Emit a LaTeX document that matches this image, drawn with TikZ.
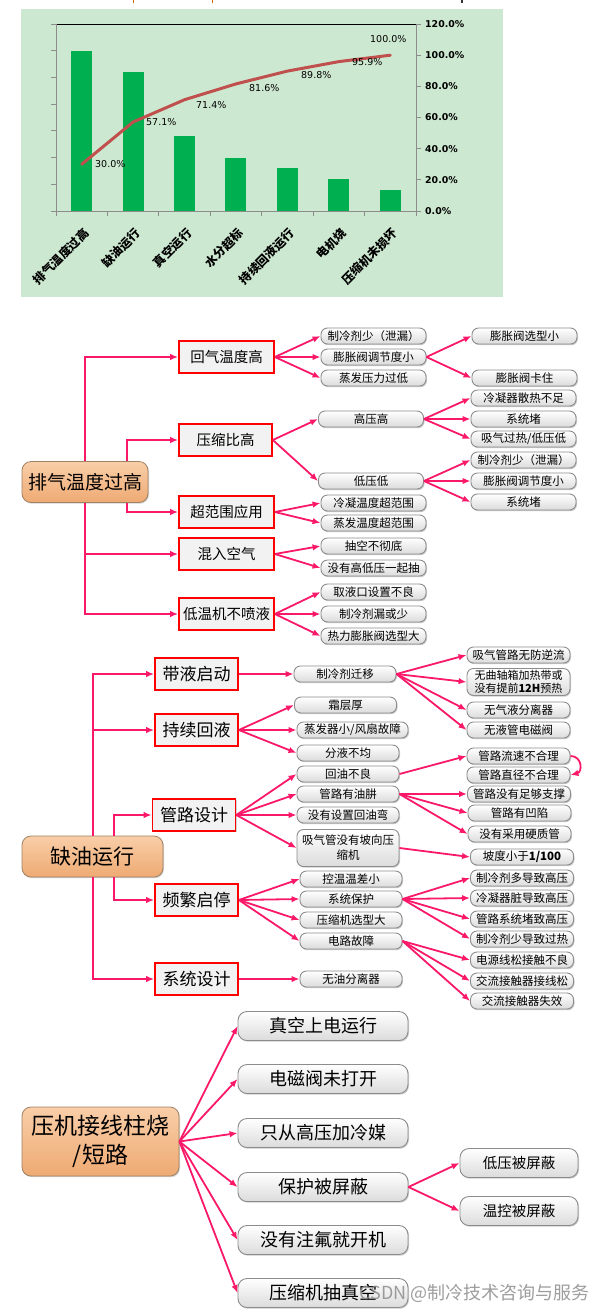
\documentclass[tikz,border=0pt]{standalone}
\usepackage{fontspec}
\setmainfont{Noto Sans CJK SC}
\newfontfamily\numf{DejaVu Sans}
\usetikzlibrary{arrows.meta,shadows}
\definecolor{pk}{RGB}{250,25,105}
\definecolor{chartbg}{RGB}{205,232,208}
\definecolor{barg}{RGB}{0,176,80}
\definecolor{cline}{RGB}{192,80,77}
\definecolor{orgA}{RGB}{249,206,168}
\definecolor{orgB}{RGB}{238,170,115}
\definecolor{pillborder}{RGB}{140,140,140}
\definecolor{rootborder}{RGB}{160,130,100}
\tikzset{
  arr/.style={pk, line width=1.8pt, -{Latex[length=8pt,width=6.5pt]}},
  pill/.style={rounded corners=6.5pt, draw=pillborder, line width=0.9pt, top color=white, bottom color=black!14,
    drop shadow={shadow xshift=1pt, shadow yshift=-1.2pt, fill=black!40, opacity=0.5},
    minimum height=16pt, inner sep=0pt, align=center, text=black},
  pa/.style={pill, minimum width=105pt, font=\fontsize{11.5}{13.5}\selectfont},
  pb/.style={pill, minimum width=103pt, font=\fontsize{11.5}{13.5}\selectfont},
  pc/.style={pill, minimum width=170pt, minimum height=29pt, rounded corners=9pt, font=\fontsize{18}{20}\selectfont},
  pd/.style={pill, minimum width=118pt, minimum height=29pt, rounded corners=9pt, font=\fontsize{14.5}{16}\selectfont},
  box/.style={draw=red, line width=1.7pt, fill=black!5, inner sep=0pt, minimum height=32pt,
    drop shadow={shadow xshift=1pt, shadow yshift=-1.2pt, fill=black!35, opacity=0.5}},
  rootbox/.style={rounded corners=9pt, draw=rootborder, line width=0.8pt, top color=orgA, bottom color=orgB,
    drop shadow={shadow xshift=1pt, shadow yshift=-1.2pt, fill=black!35, opacity=0.5},
    inner sep=0pt, align=center},
  pct/.style={anchor=west, font=\numf\fontsize{9.5}{11}\selectfont, inner sep=0pt},
  axl/.style={anchor=west, font=\numf\bfseries\fontsize{9.4}{11}\selectfont, inner sep=0pt},
  catl/.style={anchor=east, rotate=45, font=\bfseries\fontsize{12}{14}\selectfont, inner sep=0pt}
}
\begin{document}
\begin{tikzpicture}[x=1pt,y=-1pt]
\useasboundingbox (0,0) rectangle (600,1312);
\fill[white] (0,0) rectangle (600,1312);
% top remnants
\fill[orange!80!black] (132.5,0) rectangle (133.5,2.5);
\fill[orange!80!black] (211.5,0) rectangle (212.5,2.5);
\fill[black!80] (461,0) rectangle (462.5,2.5);
% ---------------- chart ----------------
\fill[chartbg] (21,9) rectangle (503,297);
\foreach \i/\t in {0/51,1/72,2/136,3/158,4/168,5/179,6/190}
  \fill[barg] ({81.7+\i*51.43-10.5},\t) rectangle ({81.7+\i*51.43+10.5},211);
\draw[black, line width=1pt] (56,24) -- (416,24);
\draw[black!45, line width=0.9pt] (56,24) -- (56,211) -- (416,211) -- (416,24);
\foreach \i in {0,...,7} \draw[black!45, line width=0.9pt] (51,{24+\i*26.714}) -- (56,{24+\i*26.714});
\foreach \i in {0,...,7} \draw[black!45, line width=0.9pt] ({56+\i*51.43},211) -- ({56+\i*51.43},216);
\foreach \i in {0,...,6} \draw[black!45, line width=0.9pt] (416,{211-\i*31.17}) -- (421,{211-\i*31.17});
\node[axl] (y0) at (425,211) {0.0\%};
\node[axl] (y1) at (425,179.8) {20.0\%};
\node[axl] (y2) at (425,148.7) {40.0\%};
\node[axl] (y3) at (425,117.5) {60.0\%};
\node[axl] (y4) at (425,86.3) {80.0\%};
\node[axl] (y5) at (425,55.2) {100.0\%};
\node[axl] (y6) at (425,24) {120.0\%};
\draw[cline, line width=3pt, line join=round, line cap=round] (81.7,164.3) -- (133.1,122) -- (184.6,99.7) -- (236,83.9) -- (287.4,71.1) -- (338.9,61.6) -- (390.3,55.2);
\node[pct] (v1) at (95,164) {30.0\%};
\node[pct] (v2) at (146,122) {57.1\%};
\node[pct] (v3) at (196,105) {71.4\%};
\node[pct] (v4) at (249,88) {81.6\%};
\node[pct] (v5) at (301,75) {89.8\%};
\node[pct] (v6) at (352,62) {95.9\%};
\node[pct] (v7) at (370,39) {100.0\%};
\node[catl] (k1) at (86.7,231) {排气温度过高};
\node[catl] (k2) at (138.1,231) {缺油运行};
\node[catl] (k3) at (189.6,231) {真空运行};
\node[catl] (k4) at (241,231) {水分超标};
\node[catl] (k5) at (292.4,231) {持续回液运行};
\node[catl] (k6) at (343.9,231) {电机烧};
\node[catl] (k7) at (395.3,231) {压缩机未损坏};
% ---------------- section 1 ----------------
\node[rootbox, minimum width=126pt, minimum height=41pt, font=\fontsize{19}{21}\selectfont] (r1) at (85,482) {排气温度过高};
\node[box, minimum width=95pt, font=\fontsize{14.5}{16}\selectfont] (a1) at (226.5,357) {回气温度高};
\node[box, minimum width=93pt, font=\fontsize{14.5}{16}\selectfont] (a2) at (225.5,440) {压缩比高};
\node[box, minimum width=95pt, font=\fontsize{14.5}{16}\selectfont] (a3) at (226.5,512) {超范围应用};
\node[box, minimum width=95pt, font=\fontsize{14.5}{16}\selectfont] (a4) at (226.5,554) {混入空气};
\node[box, minimum width=95pt, font=\fontsize{14.5}{16}\selectfont] (a5) at (226.5,614) {低温机不喷液};
\node[pa] (b1) at (373.5,336) {制冷剂少（泄漏）};
\node[pa] (b2) at (373.5,357) {膨胀阀调节度小};
\node[pa] (b3) at (373.5,378) {蒸发压力过低};
\node[pa] (b4) at (371,419) {高压高};
\node[pa] (b5) at (371,481) {低压低};
\node[pa] (b6) at (373.5,503) {冷凝温度超范围};
\node[pa] (b7) at (373.5,523) {蒸发温度超范围};
\node[pa] (b8) at (373.5,546) {抽空不彻底};
\node[pa] (b9) at (373.5,568) {没有高低压一起抽};
\node[pa] (b10) at (373.5,592) {取液口设置不良};
\node[pa] (b11) at (373.5,614) {制冷剂漏或少};
\node[pa] (b12) at (373.5,636) {热力膨胀阀选型大};
\node[pa] (c1) at (524.5,336) {膨胀阀选型小};
\node[pa] (c2) at (524.5,378) {膨胀阀卡住};
\node[pa] (c3) at (523.5,398) {冷凝器散热不足};
\node[pa] (c4) at (523.5,419) {系统堵};
\node[pa] (c5) at (523.5,439) {吸气过热/低压低};
\node[pa] (c6) at (523.5,460) {制冷剂少（泄漏）};
\node[pa] (c7) at (523.5,481) {膨胀阀调节度小};
\node[pa] (c8) at (523.5,502) {系统堵};
\coordinate (t1) at (85,0);
\coordinate (t2) at (127,0);
\draw[arr] (r1.north -| t1) |- (a1.west);
\draw[arr] (r1.north -| t2) |- (a2.west);
\draw[arr] (r1.south -| t2) |- (a3.west);
\draw[arr] (r1.south -| t1) |- (a4.west);
\draw[arr] (r1.south -| t1) |- (a5.west);
\foreach \s/\t in {a1/b1,a1/b2,a1/b3,a2/b4,a2/b5,a3/b6,a3/b7,a4/b8,a4/b9,a5/b10,a5/b11,a5/b12,b2/c1,b2/c2,b4/c3,b4/c4,b4/c5,b5/c6,b5/c7,b5/c8}
  \draw[arr] (\s.east) -- (\t.west);
% ---------------- section 2 ----------------
\node[rootbox, minimum width=141pt, minimum height=41pt, font=\fontsize{21}{23}\selectfont] (r2) at (92.5,856.5) {缺油运行};
\node[box, minimum width=83pt, font=\fontsize{17}{19}\selectfont] (d1) at (196.5,674) {带液启动};
\node[box, minimum width=83pt, font=\fontsize{17}{19}\selectfont] (d2) at (196.5,730) {持续回液};
\node[box, minimum width=83pt, font=\fontsize{17}{19}\selectfont] (d3) at (194,815) {管路设计};
\node[box, minimum width=83pt, font=\fontsize{17}{19}\selectfont] (d4) at (196.5,900) {频繁启停};
\node[box, minimum width=83pt, font=\fontsize{17}{19}\selectfont] (d5) at (196.5,979) {系统设计};
\node[pb, minimum width=102pt] (e1) at (345,674) {制冷剂迁移};
\node[pb, minimum width=102pt] (e2) at (345.5,705) {霜层厚};
\node[pb, minimum width=111pt] (e3) at (352.5,730) {蒸发器小/风扇故障};
\node[pb, minimum width=102pt] (e4) at (348,753) {分液不均};
\node[pb, minimum width=102pt] (e5) at (348,774) {回油不良};
\node[pb, minimum width=102pt] (e6) at (348,794) {管路有油肼};
\node[pb, minimum width=102pt] (e7) at (348,815) {没有设置回油弯};
\node[pb, minimum width=102pt, minimum height=37pt, font=\fontsize{11.5}{15}\selectfont] (e8) at (348,848) {吸气管没有坡向压\\缩机};
\node[pb, minimum width=102pt] (e9) at (351,879) {控温温差小};
\node[pb, minimum width=102pt] (e10) at (351,899) {系统保护};
\node[pb, minimum width=102pt] (e11) at (351,920) {压缩机选型大};
\node[pb, minimum width=102pt] (e12) at (351,941) {电路故障};
\node[pb, minimum width=102pt] (e13) at (351,979) {无油分离器};
\node[pb] (f1) at (518.5,655) {吸气管路无防逆流};
\node[pb, minimum height=27pt, font=\fontsize{11}{13}\selectfont] (f2) at (518.5,682) {无曲轴箱加热带或\\没有提前\textbf{12H}预热};
\node[pb] (f3) at (518.5,710) {无气液分离器};
\node[pb] (f4) at (518.5,730) {无液管电磁阀};
\node[pb] (f5) at (518.5,756) {管路流速不合理};
\node[pb] (f6) at (518.5,775) {管路直径不合理};
\node[pb] (f7) at (519,794) {管路没有足够支撑};
\node[pb] (f8) at (519.5,813) {管路有凹陷};
\node[pb] (f9) at (519.5,834) {没有采用硬质管};
\node[pb] (f10) at (522,857) {坡度小于\textbf{1/100}};
\node[pb] (f11) at (522,878) {制冷剂多导致高压};
\node[pb] (f12) at (522,898) {冷凝器脏导致高压};
\node[pb] (f13) at (522,919) {管路系统堵致高压};
\node[pb] (f14) at (522,939) {制冷剂少导致过热};
\node[pb] (f15) at (522,960) {电源线松接触不良};
\node[pb] (f16) at (522,981) {交流接触器接线松};
\node[pb] (f17) at (522,1001) {交流接触器失效};
\coordinate (u1) at (93,0);
\coordinate (u2) at (114,0);
\draw[arr] (r2.north -| u1) |- (d1.west);
\draw[arr] (r2.north -| u1) |- (d2.west);
\draw[arr] (r2.north -| u2) |- (d3.west);
\draw[arr] (r2.south -| u2) |- (d4.west);
\draw[arr] (r2.south -| u1) |- (d5.west);
\foreach \s/\t in {d1/e1,d2/e2,d2/e3,d2/e4,d3/e5,d3/e6,d3/e7,d3/e8,d4/e9,d4/e10,d4/e11,d4/e12,d5/e13,e1/f1,e1/f2,e1/f3,e1/f4,e5/f5,e6/f7,e6/f8,e6/f9,e8/f10,e10/f11,e10/f12,e10/f13,e10/f14,e12/f15,e12/f16,e12/f17}
  \draw[arr] (\s.east) -- (\t.west);
\draw[arr] (f5.east) .. controls +(12,0) and +(12,-3) .. (f6.east);
% ---------------- section 3 ----------------
\node[rootbox, minimum width=157pt, minimum height=69pt, font=\fontsize{23}{29}\selectfont] (r3) at (100.5,1141.5) {压机接线柱烧\\/短路};
\node[pc] (g1) at (323,1026) {真空上电运行};
\node[pc] (g2) at (323,1079) {电磁阀未打开};
\node[pc] (g3) at (323,1133) {只从高压加冷媒};
\node[pc] (g4) at (323,1187) {保护被屏蔽};
\node[pc] (g5) at (323,1240) {没有注氟就开机};
\node[pc] (g6) at (323,1293) {压缩机抽真空};
\node[pd] (h1) at (519,1163) {低压被屏蔽};
\node[pd] (h2) at (519,1211) {温控被屏蔽};
\foreach \t in {g1,g2,g3,g4,g5,g6} \draw[arr] (r3.east) -- (\t.west);
\foreach \t in {h1,h2} \draw[arr] (g4.east) -- (\t.west);
\node[anchor=east, text=black!45, opacity=0.85, font=\fontsize{18}{20}\selectfont, inner sep=0pt] (wm) at (590,1293) {CSDN @制冷技术咨询与服务};
\end{tikzpicture}
\end{document}
